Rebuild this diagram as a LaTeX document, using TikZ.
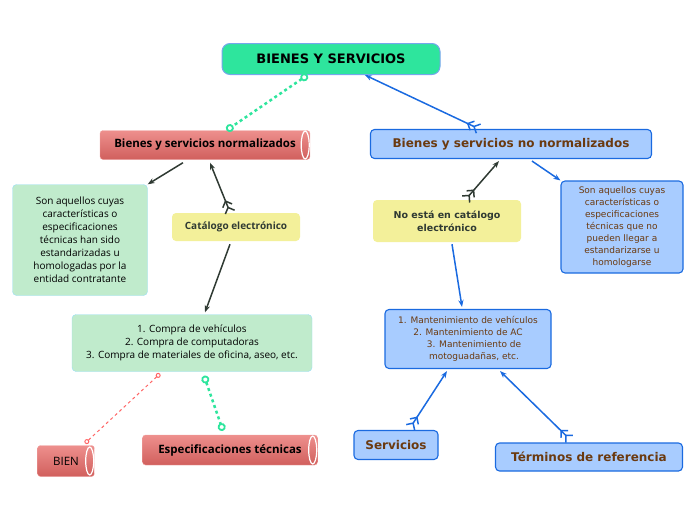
\documentclass[tikz,border=0pt]{standalone}
\usepackage{fontspec}
\setmainfont{Open Sans}
\newfontfamily\dejavu{DejaVu Sans}
\usetikzlibrary{arrows.meta,calc,positioning}

\definecolor{topgreen}{HTML}{2EE59D}
\definecolor{tubered}{HTML}{E86A67}
\definecolor{softgreen}{HTML}{C0EBCC}
\definecolor{softyellow}{HTML}{F3F09A}
\definecolor{softblue}{HTML}{A8CCFF}
\definecolor{edgeblue}{HTML}{1A6AE0}
\definecolor{darkline}{HTML}{2F3A33}
\definecolor{brown}{HTML}{6B3A10}

\tikzset{
  tube/.style={top color=tubered!75!white, bottom color=tubered!90!black, draw=tubered!60!white, rounded corners=3pt, font=\bfseries\fontsize{11.5}{13}\selectfont, inner sep=0pt},
  note/.style={fill=softgreen, draw=cyan!40, rounded corners=4pt, align=center, font=\fontsize{10}{13}\selectfont, inner sep=0pt},
  cat/.style={fill=softyellow, rounded corners=4pt, align=center, font=\bfseries\fontsize{10}{13}\selectfont, text=darkline, inner sep=0pt},
  bluebox/.style={fill=softblue, draw=edgeblue, line width=1.1pt, rounded corners=4pt, align=center, text=brown, font=\dejavu\fontsize{9}{12}\selectfont, inner sep=0pt},
  feather/.style={-{Stealth[length=7pt]}, line width=1.5pt},
  tails/.style={{Straight Barb[reversed,length=5pt]Straight Barb[reversed,length=5pt]}-{Stealth[length=7pt]}, line width=1.5pt},
  greendash/.style={topgreen, line width=2.5pt, dash pattern=on 3pt off 3pt, {Circle[open,length=8pt,line width=1.8pt]}-{Circle[open,length=8pt,line width=1.8pt]}},
}

\begin{document}
\begin{tikzpicture}[x=1pt,y=-1pt]
	\useasboundingbox (0,0) rectangle (696,520);

	% top node
	\node[fill=topgreen, draw=edgeblue!60, line width=1pt, rounded corners=8pt, minimum width=218pt, minimum height=31pt, font=\dejavu\bfseries\fontsize{13}{15}\selectfont] (top) at (331,59) {BIENES Y SERVICIOS};

	% left branch
	\node[tube, minimum width=210pt, minimum height=29pt] (norm) at (205,145) {Bienes y servicios normalizados};
	\node[note, minimum width=135pt, minimum height=111pt] (gdef) at (80,240) {Son aquellos cuyas\\características o\\especificaciones\\técnicas han sido\\estandarizadas u\\homologadas por la\\entidad contratante};
	\node[cat, minimum width=128pt, minimum height=28pt] (catalog) at (236,227) {Catálogo electrónico};
	\node[note, minimum width=240pt, minimum height=57pt] (buy) at (192,343) {1. Compra de vehículos\\2. Compra de computadoras\\3. Compra de materiales de oficina, aseo, etc.};
	\node[tube, font=\fontsize{11.5}{13}\selectfont, minimum width=57pt, minimum height=31pt] (good) at (66,461) {BIEN};
	\node[tube, minimum width=175pt, minimum height=30pt] (spec) at (230,450) {Especificaciones técnicas};

	% tube ends
	\foreach \t in {norm,good,spec}
	  \draw[white, line width=1.2pt] ($(\t.east)+(-5,0)$) ellipse (4pt and 14pt);

	% right branch
	\node[bluebox, font=\dejavu\bfseries\fontsize{12}{14}\selectfont, minimum width=281pt, minimum height=29pt] (nonorm) at (511,144) {Bienes y servicios no normalizados};
	\node[cat, font=\dejavu\bfseries\fontsize{9.5}{13}\selectfont, minimum width=148pt, minimum height=42pt] (nocat) at (447,221) {No está en catálogo\\electrónico};
	\node[bluebox, minimum width=122pt, minimum height=92pt] (bdef) at (622,227) {Son aquellos cuyas\\características o\\especificaciones\\técnicas que no\\pueden llegar a\\estandarizarse u\\homologarse};
	\node[bluebox, minimum width=166pt, minimum height=59pt] (maint) at (468,339) {1. Mantenimiento de vehículos\\2. Mantenimiento de AC\\\hspace{12pt}3. Mantenimiento de\\\hspace{12pt}motoguadañas, etc.};
	\node[bluebox, font=\dejavu\bfseries\fontsize{12}{14}\selectfont, minimum width=84pt, minimum height=29pt] (serv) at (396,445) {Servicios};
	\node[bluebox, font=\dejavu\bfseries\fontsize{12}{14}\selectfont, minimum width=187pt, minimum height=28pt] (terms) at (589,457) {Términos de referencia};

	% connectors
	\draw[greendash] (top) -- (norm);
	\draw[tails, edgeblue] (nonorm) -- (top);
	\draw[feather, darkline] ($(norm.south)+(-22,3)$) -- (gdef.north east);
	\draw[tails, darkline] (catalog) -- ($(norm.south)+(5,3)$);
	\draw[feather, darkline] ($(catalog.south)+(-6,3)$) -- ($(buy.north)+(13,-2)$);
	\draw[red!60, line width=1pt, dash pattern=on 3pt off 3pt, {Circle[open,length=5pt]}-{Circle[open,length=5pt]}] ($(buy.south)+(-32,2)$) -- ($(good.north)+(19,-2)$);
	\draw[greendash] ($(buy.south)+(12,4)$) -- ($(spec.north)+(-7,-4)$);
	\draw[tails, darkline] (nocat) -- ($(nonorm.south)+(-12,2)$);
	\draw[feather, edgeblue] ($(nonorm.south)+(21,2)$) -- (bdef.north west);
	\draw[feather, edgeblue] ($(nocat.south)+(5,2)$) -- ($(maint.north)+(-6,-2)$);
	\draw[tails, edgeblue] ($(serv.north)+(14,-2)$) -- ($(maint.south)+(-21,2)$);
	\draw[tails, edgeblue] ($(terms.north)+(-19,-3)$) -- ($(maint.south)+(32,2)$);
\end{tikzpicture}
\end{document}
